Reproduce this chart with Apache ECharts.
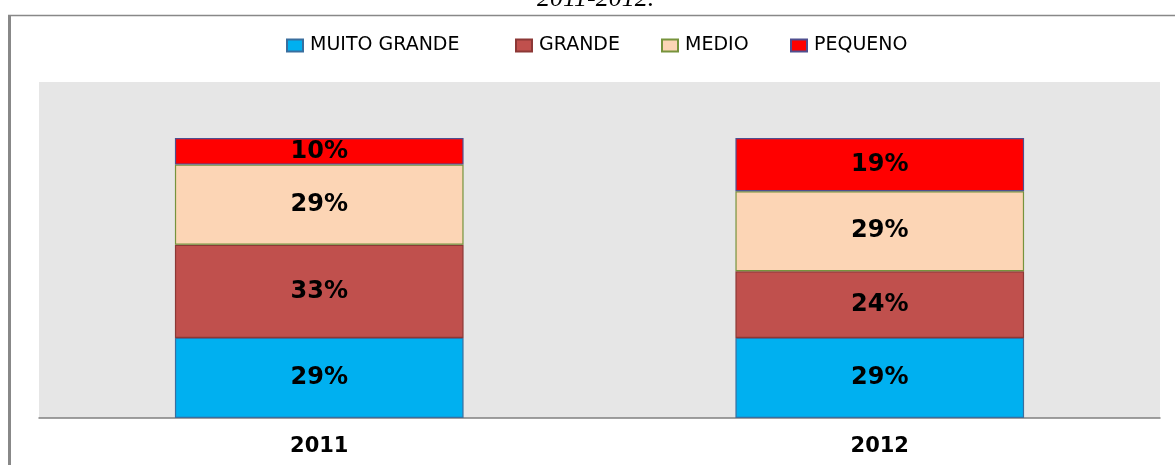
<!DOCTYPE html>
<html>
<head>
<meta charset="utf-8">
<script src="https://cdn.jsdelivr.net/npm/echarts@6/dist/echarts.min.js"></script>
<style>
  html, body { margin: 0; padding: 0; background: #ffffff; }
  #chart { width: 1175px; height: 465px; }
</style>
</head>
<body>
<div id="chart"></div>
<script>
// Company size shares per year (percent of total)
const years = ['2011', '2012'];
const seriesNames = ['MUITO GRANDE', 'GRANDE', 'MEDIO', 'PEQUENO'];
const muitoGrande = [28.6, 28.6];
const grande = [33.3, 23.8];
const medio = [28.6, 28.6];
const pequeno = [9.5, 19.0];

const fills = ['#00B0F0', '#C0504D', '#FCD5B5', '#FF0000'];
const borders = ['#3A6E9E', '#8C3836', '#77933C', '#4F4F8F'];
const values = [muitoGrande, grande, medio, pequeno];

// one legend block per entry so each sits at its own x position
const legendX = [286, 515, 661, 790];

const chart = echarts.init(document.getElementById('chart'));

chart.setOption({
  animation: false,
  backgroundColor: '#ffffff',
  title: {
    text: '2011-2012.',
    left: 537,
    top: -14,
    padding: 0,
    textStyle: {
      fontFamily: 'Liberation Serif',
      fontStyle: 'italic',
      fontWeight: 'normal',
      fontSize: 26,
      color: '#000000'
    }
  },
  legend: seriesNames.map((name, i) => ({
    data: [name],
    left: legendX[i],
    top: 36,
    padding: 0,
    icon: 'rect',
    itemWidth: 16,
    itemHeight: 12,
    itemGap: 0,
    textStyle: {
      fontFamily: 'DejaVu Sans',
      fontSize: 19,
      color: '#000000',
      padding: [0, 0, 0, 2]
    }
  })),
  graphic: [
    {
      type: 'line',
      shape: { x1: 9.5, y1: 15, x2: 9.5, y2: 465 },
      style: { stroke: '#888888', lineWidth: 3 },
      silent: true
    },
    {
      type: 'line',
      shape: { x1: 8, y1: 15.5, x2: 1175, y2: 15.5 },
      style: { stroke: '#888888', lineWidth: 1.5 },
      silent: true
    }
  ],
  grid: {
    left: 39,
    right: 15,
    top: 82,
    bottom: 47,
    show: true,
    backgroundColor: '#E6E6E6',
    borderWidth: 0
  },
  xAxis: {
    type: 'category',
    data: years,
    axisLine: { show: true, lineStyle: { color: '#808080', width: 1.5 } },
    axisTick: { show: false },
    axisLabel: {
      margin: 18,
      fontFamily: 'DejaVu Sans',
      fontWeight: 'bold',
      fontSize: 21,
      color: '#000000'
    }
  },
  yAxis: {
    type: 'value',
    min: 0,
    max: 120,
    show: false,
    splitLine: { show: false }
  },
  series: seriesNames.map((name, i) => ({
    name: name,
    type: 'bar',
    stack: 'total',
    barWidth: '51.5%',
    data: values[i],
    itemStyle: {
      color: fills[i],
      borderColor: borders[i],
      borderWidth: 1.2
    },
    label: {
      show: true,
      position: 'inside',
      formatter: p => Math.round(p.value) + '%',
      fontFamily: 'DejaVu Sans',
      fontWeight: 'bold',
      fontSize: 24,
      color: '#000000'
    }
  }))
});
</script>
</body>
</html>
